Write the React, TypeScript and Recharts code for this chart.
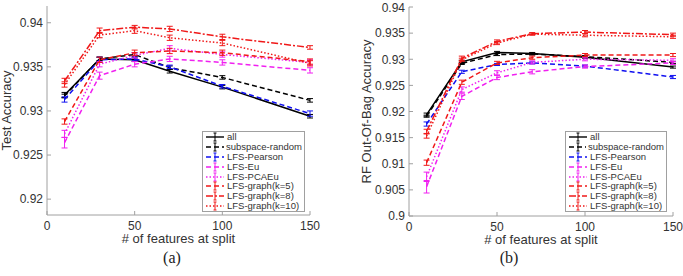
import React from "react";
import {
  LineChart,
  Line,
  XAxis,
  YAxis,
  ErrorBar,
  Legend,
  Label,
} from "recharts";

// # of features at split
const features = [10, 30, 50, 70, 100, 150];

const seriesNames = [
  "all",
  "subspace-random",
  "LFS-Pearson",
  "LFS-Eu",
  "LFS-PCAEu",
  "LFS-graph(k=5)",
  "LFS-graph(k=8)",
  "LFS-graph(k=10)",
];

// (a) test accuracy
const testAll = [0.9318, 0.9359, 0.9358, 0.9345, 0.9327, 0.9294];
const testSubspace = [0.9317, 0.9359, 0.9364, 0.9349, 0.9338, 0.9312];
const testPearson = [0.9313, 0.9358, 0.9359, 0.935, 0.9328, 0.9297];
const testEu = [0.9264, 0.934, 0.9353, 0.9359, 0.9355, 0.9346];
const testPCAEu = [0.9274, 0.9353, 0.9363, 0.9371, 0.9364, 0.9355];
const testK5 = [0.9288, 0.9358, 0.9366, 0.9368, 0.9366, 0.9356];
const testK8 = [0.9334, 0.9391, 0.9395, 0.9393, 0.9384, 0.9372];
const testK10 = [0.933, 0.9386, 0.9391, 0.9383, 0.9377, 0.9354];
const testErr = [
  [0.0003, 0.0002, 0.0002, 0.0002, 0.0002, 0.0002],
  [0.0002, 0.0002, 0.0002, 0.0002, 0.0002, 0.0002],
  [0.0003, 0.0003, 0.0002, 0.0002, 0.0002, 0.0003],
  [0.0006, 0.0004, 0.0003, 0.0003, 0.0003, 0.0003],
  [0.0004, 0.0003, 0.0003, 0.0003, 0.0003, 0.0003],
  [0.0003, 0.0003, 0.0003, 0.0003, 0.0003, 0.0003],
  [0.0003, 0.0003, 0.0002, 0.0003, 0.0003, 0.0002],
  [0.0003, 0.0003, 0.0003, 0.0003, 0.0003, 0.0003],
];

// (b) RF out-of-bag accuracy
const oobAll = [0.9194, 0.9295, 0.9313, 0.9311, 0.9304, 0.9285];
const oobSubspace = [0.9191, 0.9292, 0.9309, 0.931, 0.9305, 0.9294];
const oobPearson = [0.9176, 0.9276, 0.929, 0.9293, 0.9287, 0.9266];
const oobEu = [0.9056, 0.9229, 0.9265, 0.9276, 0.9286, 0.9293];
const oobPCAEu = [0.9075, 0.9242, 0.9274, 0.9294, 0.93, 0.9298];
const oobK5 = [0.9102, 0.9256, 0.9293, 0.9303, 0.9308, 0.9308];
const oobK8 = [0.9162, 0.9302, 0.9334, 0.9349, 0.9352, 0.9347];
const oobK10 = [0.9153, 0.9299, 0.9331, 0.9348, 0.9346, 0.9343];
const oobErr = [
  [0.0003, 0.0003, 0.0002, 0.0002, 0.0002, 0.0002],
  [0.0002, 0.0002, 0.0002, 0.0002, 0.0002, 0.0002],
  [0.0004, 0.0003, 0.0002, 0.0002, 0.0002, 0.0003],
  [0.0012, 0.0006, 0.0004, 0.0004, 0.0003, 0.0003],
  [0.0009, 0.0005, 0.0004, 0.0003, 0.0003, 0.0003],
  [0.0005, 0.0004, 0.0003, 0.0003, 0.0003, 0.0003],
  [0.0004, 0.0004, 0.0003, 0.0002, 0.0003, 0.0003],
  [0.0004, 0.0003, 0.0003, 0.0002, 0.0003, 0.0003],
];

const xTicks = [0, 50, 100, 150];
const testTicks = [0.92, 0.925, 0.93, 0.935, 0.94];
const oobTicks = [0.9, 0.905, 0.91, 0.915, 0.92, 0.925, 0.93, 0.935, 0.94];

const styles = [
  { color: "#000000", dash: undefined },
  { color: "#000000", dash: "5 3" },
  { color: "#1010f0", dash: "5 3" },
  { color: "#f020f0", dash: "5 3" },
  { color: "#f020f0", dash: "1.5 2" },
  { color: "#f01818", dash: "5 3" },
  { color: "#f01818", dash: "7 2 2 2" },
  { color: "#f01818", dash: "1.5 2" },
];

const FONT = "'Liberation Sans', Arial, sans-serif";
const BOX = "#a0a0a0";

function buildRows(series: number[][], errs: number[][]) {
  return features.map((x, i) => {
    const row: any = { x };
    series.forEach((s, k) => {
      row["s" + k] = s[i];
      row["e" + k] = errs[k][i];
    });
    return row;
  });
}

function LegendBox() {
  return (
    <div
      style={{
        border: `1px solid ${BOX}`,
        background: "#fff",
        fontFamily: FONT,
        fontSize: 9.5,
        color: "#333",
        padding: "0 2px",
        boxSizing: "border-box",
      }}
    >
      {seriesNames.map((name, k) => (
        <div key={name} style={{ display: "flex", alignItems: "center", height: 9.9 }}>
          <svg width={20} height={10} style={{ marginRight: 2 }}>
            <line
              x1={1}
              x2={19}
              y1={5}
              y2={5}
              stroke={styles[k].color}
              strokeWidth={1.4}
              strokeDasharray={styles[k].dash}
            />
            <line x1={10} x2={10} y1={1} y2={9} stroke={styles[k].color} strokeWidth={1} />
            <line x1={8.5} x2={11.5} y1={1} y2={1} stroke={styles[k].color} strokeWidth={1} />
            <line x1={8.5} x2={11.5} y1={9} y2={9} stroke={styles[k].color} strokeWidth={1} />
          </svg>
          <span style={{ whiteSpace: "nowrap", lineHeight: "10px" }}>{name}</span>
        </div>
      ))}
    </div>
  );
}

interface PanelProps {
  series: number[][];
  errs: number[][];
  domain: [number, number];
  ticks: number[];
  yLabel: string;
  width: number;
  margin: { top: number; right: number; left: number; bottom: number };
  yLabelOffset: number;
  legendLeft: number;
  legendWidth: number;
}

function Panel({
  series,
  errs,
  domain,
  ticks,
  yLabel,
  width,
  margin,
  yLabelOffset,
  legendLeft,
  legendWidth,
}: PanelProps) {
  const rows = buildRows(series, errs);
  const tickStyle = { fontSize: 12, fill: "#333", fontFamily: FONT };
  return (
    <LineChart width={width} height={250} data={rows} margin={margin}>
      <XAxis
        dataKey="x"
        type="number"
        domain={[0, 150]}
        ticks={xTicks}
        height={30}
        stroke={BOX}
        tickSize={-4}
        tickMargin={10}
        tick={tickStyle}
      >
        <Label
          value="# of features at split"
          position="insideBottom"
          offset={2}
          style={{ fontSize: 13, fill: "#333", fontFamily: FONT }}
        />
      </XAxis>
      <XAxis
        xAxisId="t"
        dataKey="x"
        type="number"
        orientation="top"
        domain={[0, 150]}
        ticks={xTicks}
        height={0}
        stroke={BOX}
        tickSize={-4}
        tickFormatter={() => ""}
      />
      <YAxis
        type="number"
        domain={domain}
        ticks={ticks}
        width={40}
        stroke={BOX}
        tickSize={-4}
        tickMargin={8}
        tick={tickStyle}
        allowDataOverflow
        tickFormatter={(v: number) => String(+v.toFixed(3))}
      >
        <Label
          value={yLabel}
          angle={-90}
          position="insideLeft"
          offset={yLabelOffset}
          style={{ fontSize: 13, fill: "#333", fontFamily: FONT, textAnchor: "middle" }}
        />
      </YAxis>
      <YAxis
        yAxisId="r"
        orientation="right"
        type="number"
        domain={domain}
        ticks={ticks}
        width={0}
        stroke={BOX}
        tickSize={-4}
        tickFormatter={() => ""}
        allowDataOverflow
      />
      {series.map((_, k) => (
        <Line
          key={k}
          dataKey={"s" + k}
          name={seriesNames[k]}
          stroke={styles[k].color}
          strokeDasharray={styles[k].dash}
          strokeWidth={1.5}
          dot={false}
          isAnimationActive={false}
        >
          <ErrorBar
            dataKey={"e" + k}
            direction="y"
            width={3}
            stroke={styles[k].color}
            strokeWidth={1}
            isAnimationActive={false}
          />
        </Line>
      ))}
      <Legend
        layout="vertical"
        align="center"
        verticalAlign="middle"
        wrapperStyle={{ left: legendLeft, top: 131, width: legendWidth }}
        content={() => <LegendBox />}
      />
    </LineChart>
  );
}

export default function App() {
  return (
    <div
      style={{
        position: "absolute",
        left: 0,
        top: 0,
        width: 683,
        height: 276,
        background: "#fff",
        overflow: "hidden",
      }}
    >
      <div style={{ position: "absolute", left: 0, top: 0 }}>
        <Panel
          series={[testAll, testSubspace, testPearson, testEu, testPCAEu, testK5, testK8, testK10]}
          errs={testErr}
          domain={[0.9182, 0.9419]}
          ticks={testTicks}
          yLabel="Test Accuracy"
          width={340}
          margin={{ top: 6, right: 30, left: 7, bottom: 5 }}
          yLabelOffset={-1}
          legendLeft={202}
          legendWidth={103}
        />
      </div>
      <div style={{ position: "absolute", left: 340, top: 0 }}>
        <Panel
          series={[oobAll, oobSubspace, oobPearson, oobEu, oobPCAEu, oobK5, oobK8, oobK10]}
          errs={oobErr}
          domain={[0.9, 0.94]}
          ticks={oobTicks}
          yLabel="RF Out-Of-Bag Accuracy"
          width={343}
          margin={{ top: 7, right: 10, left: 29, bottom: 4 }}
          yLabelOffset={-3}
          legendLeft={225}
          legendWidth={102}
        />
      </div>
      <div
        style={{
          position: "absolute",
          left: 152,
          top: 248,
          width: 40,
          textAlign: "center",
          fontFamily: "'Liberation Serif', serif",
          fontSize: 16,
          lineHeight: "20px",
          color: "#222",
        }}
      >
        (a)
      </div>
      <div
        style={{
          position: "absolute",
          left: 489,
          top: 248,
          width: 40,
          textAlign: "center",
          fontFamily: "'Liberation Serif', serif",
          fontSize: 16,
          lineHeight: "20px",
          color: "#222",
        }}
      >
        (b)
      </div>
    </div>
  );
}
